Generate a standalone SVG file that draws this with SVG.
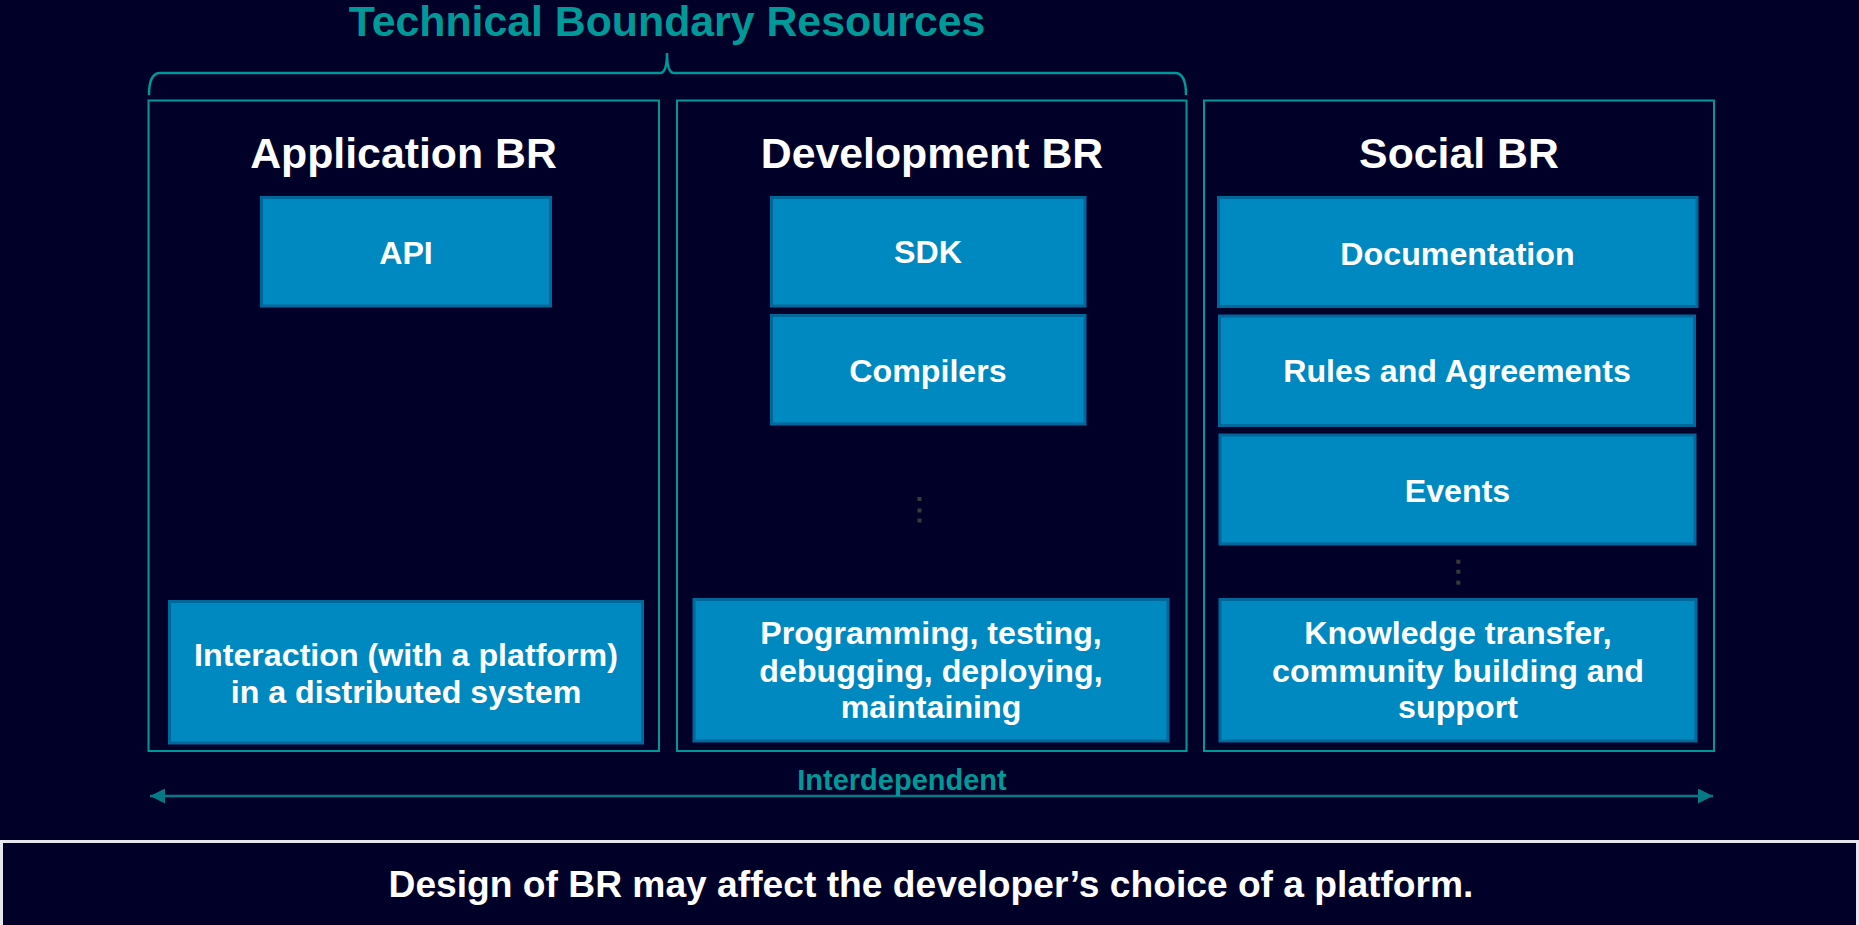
<svg xmlns="http://www.w3.org/2000/svg" width="1859" height="925" viewBox="0 0 1859 925">
<defs>
<style>
text{font-family:"Liberation Sans",Arial,sans-serif;font-weight:bold;text-anchor:middle}
.col{fill:none;stroke:#00979b;stroke-width:2}
.box{fill:#0088c0;stroke:#00679a;stroke-width:3}
.ttl{fill:#ffffff;font-size:42.8px}
.lbl{fill:#ffffff;font-size:32.2px}
.teal{fill:#009999}
.dot{fill:#3a3a3a}
</style>
<marker id="ah" viewBox="0 0 10 10" refX="10" refY="5" markerWidth="15" markerHeight="15" orient="auto-start-reverse" markerUnits="userSpaceOnUse">
<path d="M0,0 L10,5 L0,10 z" fill="#057a84"/>
</marker>
</defs>
<rect width="1859" height="925" fill="#010028"/>

<g id="title">
<text class="teal" x="667" y="36" font-size="42.8">Technical Boundary Resources</text>
<path d="M149,95 Q149,73 160,73 L660,73 Q667,73 667,53 Q667,73 674,73 L1175,73 Q1186,73 1186,95" fill="none" stroke="#00979b" stroke-width="2.5"/>
</g>

<g id="col-application">
<rect class="col" x="148.5" y="100.5" width="510.5" height="650.5"/>
<text class="ttl" x="403.5" y="168">Application BR</text>
<g id="api"><rect class="box" x="261.5" y="197.5" width="289" height="108.5"/><text class="lbl" x="406" y="263.5">API</text></g>
<g id="interaction"><rect class="box" x="169.5" y="601.5" width="473" height="141.5"/>
<text class="lbl" x="406" y="666">Interaction (with a platform)</text>
<text class="lbl" x="406" y="702.7">in a distributed system</text></g>
</g>

<g id="col-development">
<rect class="col" x="677" y="100.5" width="509.5" height="650.5"/>
<text class="ttl" x="932" y="167.5">Development BR</text>
<g id="sdk"><rect class="box" x="771.5" y="197.5" width="313.5" height="108.5"/><text class="lbl" x="928" y="263.3">SDK</text></g>
<g id="compilers"><rect class="box" x="771.5" y="315.5" width="313.5" height="108.5"/><text class="lbl" x="928" y="382.3">Compilers</text></g>
<rect class="dot" x="917.5" y="497" width="4" height="4"/>
<rect class="dot" x="917.5" y="508.5" width="4" height="4"/>
<rect class="dot" x="917.5" y="518.5" width="4" height="4"/>
<g id="programming"><rect class="box" x="694" y="599.5" width="474" height="141.5"/>
<text class="lbl" x="931" y="644">Programming, testing,</text>
<text class="lbl" x="931" y="681.5">debugging, deploying,</text>
<text class="lbl" x="931" y="718.3">maintaining</text></g>
</g>

<g id="col-social">
<rect class="col" x="1204" y="100.5" width="510" height="650.5"/>
<text class="ttl" x="1459" y="167.7">Social BR</text>
<g id="documentation"><rect class="box" x="1218.5" y="197.5" width="478.5" height="109"/><text class="lbl" x="1457.5" y="265">Documentation</text></g>
<g id="rules"><rect class="box" x="1219.5" y="316" width="475" height="109.5"/><text class="lbl" x="1457" y="382.3">Rules and Agreements</text></g>
<g id="events"><rect class="box" x="1220" y="435" width="475" height="109"/><text class="lbl" x="1457.5" y="501.7">Events</text></g>
<rect class="dot" x="1456.3" y="559.7" width="4" height="4"/>
<rect class="dot" x="1456.3" y="569.7" width="4" height="4"/>
<rect class="dot" x="1456.3" y="580.7" width="4" height="4"/>
<g id="knowledge"><rect class="box" x="1220" y="599.5" width="476" height="141.5"/>
<text class="lbl" x="1458" y="644">Knowledge transfer,</text>
<text class="lbl" x="1458" y="681.5">community building and</text>
<text class="lbl" x="1458" y="718.3">support</text></g>
</g>

<g id="connectors">
<line x1="150" y1="796" x2="1713" y2="796" stroke="#057a84" stroke-width="2.5" marker-start="url(#ah)" marker-end="url(#ah)"/>
<text class="teal" x="902" y="790" font-size="29">Interdependent</text>
</g>

<g id="footer">
<rect x="1.5" y="841.5" width="1856" height="100" fill="#010028" stroke="#e6e6ee" stroke-width="3"/>
<text fill="#ffffff" x="931" y="896.5" font-size="37.2">Design of BR may affect the developer’s choice of a platform.</text>
</g>
</svg>
